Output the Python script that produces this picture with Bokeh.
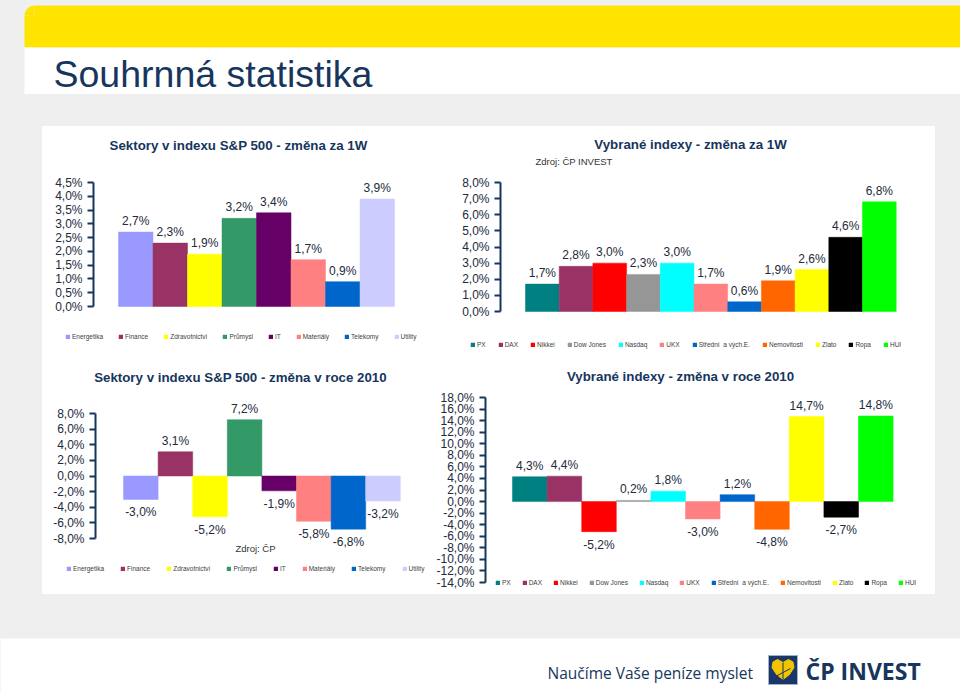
from bokeh.plotting import figure
from bokeh.models import (ColumnDataSource, Range1d, FixedTicker, LabelSet, Label,
                          Legend, LegendItem, Spacer, CustomJSTickFormatter)
from bokeh.layouts import row, column
from bokeh.core.properties import value
from bokeh.embed import file_html
from bokeh.resources import INLINE

# ---------------- data ----------------
sector_names = ["Energetika", "Finance", "Zdravotnictví", "Průmysl", "IT",
                "Materiály", "Telekomy", "Utility"]
sector_colors = ["#9999ff", "#993366", "#ffff00", "#339966", "#660066",
                 "#ff8080", "#0066cc", "#ccccff"]
sector_1w = [2.7, 2.3, 1.9, 3.2, 3.4, 1.7, 0.9, 3.9]
sector_2010 = [-3.0, 3.1, -5.2, 7.2, -1.9, -5.8, -6.8, -3.2]

index_names = ["PX", "DAX", "Nikkei", "Dow Jones", "Nasdaq", "UKX",
               "Střední  a vých.E.", "Nemovitosti", "Zlato", "Ropa", "HUI"]
index_colors = ["#008080", "#993366", "#ff0000", "#969696", "#00ffff", "#ff8080",
                "#0066cc", "#ff6600", "#ffff00", "#000000", "#00ff00"]
index_1w = [1.7, 2.8, 3.0, 2.3, 3.0, 1.7, 0.6, 1.9, 2.6, 4.6, 6.8]
index_2010 = [4.3, 4.4, -5.2, 0.2, 1.8, -3.0, 1.2, -4.8, 14.7, -2.7, 14.8]

ticks_sector_1w = [0.0, 0.5, 1.0, 1.5, 2.0, 2.5, 3.0, 3.5, 4.0, 4.5]
ticks_index_1w = [0, 1, 2, 3, 4, 5, 6, 7, 8]
ticks_sector_2010 = [-8, -6, -4, -2, 0, 2, 4, 6, 8]
ticks_index_2010 = [-14, -12, -10, -8, -6, -4, -2, 0, 2, 4, 6, 8, 10, 12, 14, 16, 18]

page_title = "Souhrnná statistika"
title_1 = "Sektory v indexu S&P 500 - změna za 1W"
title_2 = "Vybrané indexy - změna za 1W"
title_3 = "Sektory v indexu S&P 500 - změna v roce 2010"
title_4 = "Vybrané indexy - změna v roce 2010"
source_2 = "Zdroj: ČP INVEST"
source_3 = "Zdroj: ČP"
slogan = "Naučíme Vaše peníze myslet"
brand = "ČP INVEST"

# ---------------- styles ----------------
NAVY = "#17365d"
GRAY_BG = "#efefef"
FONT = "Liberation Sans"
TXT = "#222b3c"


def pct(v):
    return f"{v:.1f}".replace(".", ",") + "%"


def make_chart(names, colors, values, ticks, w, h, geom, title, tpos,
               lpos, lspacing, extra=None):
    """geom = (axis_px, first_bar_px, bar_px, top_tick_px, bottom_tick_px),
    pixel positions measured from the figure's top-left corner."""
    ax_px, b0, bw, tt, tb = geom
    n = len(values)
    t0, t1 = ticks[0], ticks[-1]
    upp = (t1 - t0) / (tb - tt)
    x_start = -0.5 - b0 / bw
    x_end = x_start + w / bw
    y_end = t1 + tt * upp
    y_start = t1 - (h - tt) * upp

    src = ColumnDataSource(dict(
        x=list(range(n)), top=values, color=colors, name=names,
        label=[pct(v) for v in values],
        off=[11 if v >= 0 else -13 for v in values],
    ))
    p = figure(width=w, height=h, output_backend="svg", toolbar_location=None,
               x_range=Range1d(x_start, x_end), y_range=Range1d(y_start, y_end),
               x_axis_location=None, min_border=0)
    p.background_fill_color = "white"
    p.border_fill_color = "white"
    p.outline_line_color = None
    p.xgrid.grid_line_color = None
    p.ygrid.grid_line_color = None

    r = p.vbar(x="x", top="top", bottom=0, width=1.0, fill_color="color",
               line_color="color", line_width=0.5, source=src)

    ax = p.yaxis[0]
    ax.fixed_location = x_start + ax_px / bw
    ax.bounds = (t0, t1)
    ax.ticker = FixedTicker(ticks=ticks)
    ax.formatter = CustomJSTickFormatter(
        code="return tick.toFixed(1).replace('.', ',') + '%';")
    ax.axis_line_color = NAVY
    ax.axis_line_width = 2
    ax.major_tick_line_color = NAVY
    ax.major_tick_line_width = 2
    ax.major_tick_out = 6
    ax.major_tick_in = 0
    ax.minor_tick_line_color = None
    ax.major_label_text_font = FONT
    ax.major_label_text_font_size = "12px"
    ax.major_label_text_color = TXT
    ax.major_label_standoff = 5

    labels = LabelSet(x="x", y="top", text="label", y_offset="off", source=src,
                      text_align="center", text_baseline="middle",
                      text_font=value(FONT), text_font_size="12px",
                      text_color=TXT)
    p.add_layout(labels)

    p.add_layout(Label(x=tpos[0], y=tpos[1], x_units="screen", y_units="screen",
                       text=title, text_align="center", text_baseline="middle",
                       text_font=FONT, text_font_size="13.3px",
                       text_font_style="bold", text_color=NAVY))
    if extra is not None:
        txt, ex, ey, align = extra
        p.add_layout(Label(x=ex, y=ey, x_units="screen", y_units="screen",
                           text=txt, text_align=align, text_baseline="middle",
                           text_font=FONT, text_font_size="9.5px",
                           text_color="#333333"))

    items = [LegendItem(label=names[i], renderers=[r], index=i) for i in range(n)]
    lg = Legend(items=items, orientation="horizontal", location=lpos,
                glyph_width=5, glyph_height=5, label_standoff=2,
                spacing=lspacing, padding=0, margin=0, label_width=0,
                label_height=8, label_text_font=FONT,
                label_text_font_size="6.5px", label_text_color="#404040",
                border_line_color=None, background_fill_alpha=0)
    p.add_layout(lg)
    return p


c1 = make_chart(sector_names, sector_colors, sector_1w, ticks_sector_1w,
                398, 232, (51, 76, 34.5, 56, 180), title_1, (196, 213),
                (23, 18), 15)
c2 = make_chart(index_names, index_colors, index_1w, ticks_index_1w,
                495, 232, (60, 85, 33.7, 56, 185), title_2, (250, 214),
                (30, 10), 12, extra=(source_2, 95, 197, "left"))
c3 = make_chart(sector_names, sector_colors, sector_2010, ticks_sector_2010,
                388, 236, (53, 81, 34.6, 55, 180), title_3, (198, 217),
                (24, 22), 16, extra=(source_3, 213, 46, "center"))
c4 = make_chart(index_names, index_colors, index_2010, ticks_index_2010,
                505, 236, (55, 82, 34.6, 39, 224), title_4, (250, 218),
                (65, 8), 11)

# ---------------- header ----------------
hdr = figure(width=960, height=94, output_backend="svg", toolbar_location=None,
             x_range=Range1d(0, 960), y_range=Range1d(94, 0),
             x_axis_location=None, y_axis_location=None, min_border=0)
hdr.background_fill_color = GRAY_BG
hdr.border_fill_color = GRAY_BG
hdr.outline_line_color = None
hdr.grid.grid_line_color = None
hdr.quad(left=34, right=960, top=5, bottom=47, fill_color="#ffe400", line_color=None)
hdr.quad(left=24, right=960, top=15, bottom=47, fill_color="#ffe400", line_color=None)
hdr.wedge(x=34, y=15, radius=10, start_angle=90, end_angle=180,
          start_angle_units="deg", end_angle_units="deg",
          fill_color="#ffe400", line_color=None)
hdr.quad(left=24, right=960, top=47, bottom=94, fill_color="white", line_color=None)
hdr.add_layout(Label(x=53, y=73, text=page_title, text_font=FONT,
                     text_font_size="37.5px", text_color=NAVY,
                     text_baseline="middle", text_align="left"))

# ---------------- footer ----------------
ftr = figure(width=960, height=54, output_backend="svg", toolbar_location=None,
             x_range=Range1d(0, 960), y_range=Range1d(692, 638),
             x_axis_location=None, y_axis_location=None, min_border=0)
ftr.background_fill_color = "white"
ftr.border_fill_color = "white"
ftr.outline_line_color = None
ftr.grid.grid_line_color = None
ftr.add_layout(Label(x=547, y=672, text=slogan, text_font="Open Sans",
                     text_font_size="15.5px", text_color=NAVY,
                     text_baseline="middle", text_align="left"))
ftr.quad(left=768, right=797, top=655, bottom=684, fill_color="#1b3668",
         line_color="#9fb3cc", line_width=1)
leaf_x = [782.5, 776, 771.5, 772.5, 777, 782.5, 788, 792.5, 793.5, 789]
leaf_y = [679, 674, 667, 661.5, 659, 662, 659, 661.5, 667, 674]
ftr.patch(leaf_x, leaf_y, fill_color="#f2c500", line_color="#f2c500")
ftr.line([782.5, 782.5], [662, 683], line_color="#1b3668", line_width=1)
ftr.line([775, 790], [676, 668], line_color="#1b3668", line_width=1)
ftr.add_layout(Label(x=805, y=670, text=brand, text_font="Open Sans",
                     text_font_size="23px", text_font_style="bold",
                     text_color=NAVY, text_baseline="middle", text_align="left"))

# ---------------- layout ----------------
panel = column(row(c1, c2), row(c3, c4), styles={"background-color": "white"})
middle = row(Spacer(width=42, height=468), panel, Spacer(width=25, height=468))
page = column(hdr, Spacer(width=960, height=32), middle,
              Spacer(width=960, height=44), ftr,
              styles={"background-color": GRAY_BG})

open("out.html", "w").write(file_html(page, INLINE))
